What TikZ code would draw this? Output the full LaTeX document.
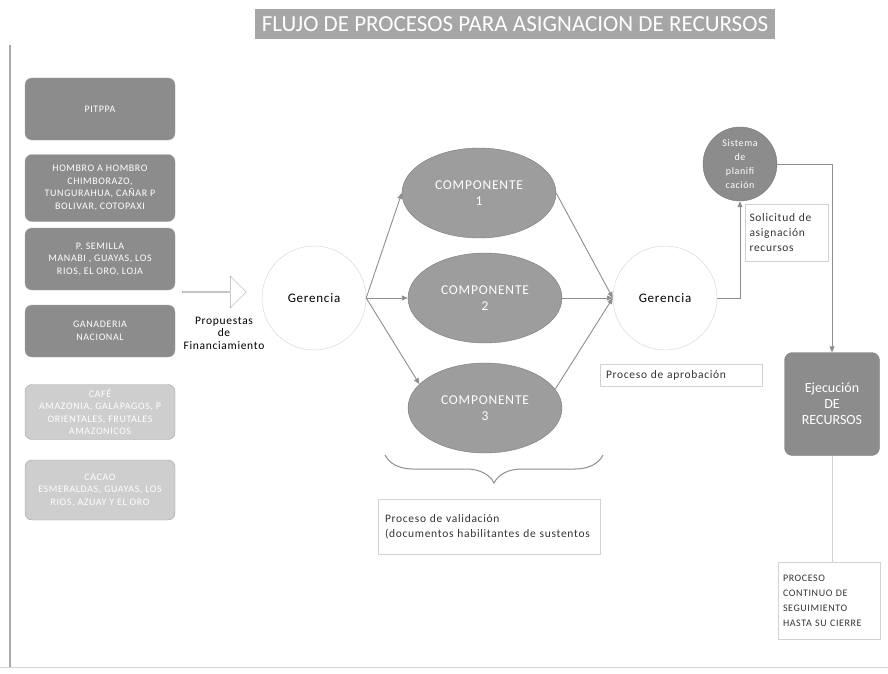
\documentclass[tikz,border=0pt]{standalone}
\usepackage{fontspec}
\setmainfont{Carlito}
\newfontfamily\spfont[LetterSpace=6]{Carlito}
\usepackage{xcolor}
\usetikzlibrary{arrows.meta,shapes.geometric,shapes.arrows,decorations.pathreplacing}
\definecolor{boxdark}{HTML}{8C8C8C}
\definecolor{boxlight}{HTML}{CECECE}
\definecolor{edgegray}{HTML}{7A7A7A}
\definecolor{faint}{HTML}{D2D2D2}
\definecolor{linegray}{HTML}{8E8E8E}
\tikzset{
prog/.style = {rectangle, rounded corners=7pt, draw=edgegray!70, fill=#1,
               text=white, minimum width=150pt, align=center,
               font=\spfont\fontsize{10}{12.5}\selectfont},
prog/.default = boxdark,
comp/.style = {ellipse, draw=edgegray, fill=boxdark!85, text=white,
               minimum width=154pt, minimum height=90pt, align=center,
               font=\spfont\fontsize{13.5}{16}\selectfont},
ger/.style = {circle, draw=faint, minimum size=104pt,
              font=\spfont\fontsize{13}{15}\selectfont},
note/.style = {rectangle, draw=faint, align=left, inner sep=0pt,
               font=\spfont\fontsize{11.5}{15}\selectfont, text=black!80},
flow/.style = {draw=linegray, line width=0.9pt, -{Triangle[length=6pt,width=5pt]}}
}

\begin{document}
\begin{tikzpicture}[x=1pt,y=-1pt]
\useasboundingbox (0,0) rectangle (888,674);

% marco del escaneo
\draw[faint!80!black, line width=1.5pt] (10,45) -- (10,668);
\draw[faint, line width=1pt] (0,667) -- (888,667);

% titulo
\node[rectangle, fill=black!35, text=white, minimum width=520pt, minimum height=30pt,
      font=\fontsize{23}{24}\selectfont] (titulo) at (515,24)
      {FLUJO DE PROCESOS PARA ASIGNACION DE RECURSOS};

% programas
\node[prog, minimum height=62pt] (pitppa) at (100,109) {PITPPA};
\node[prog, minimum height=67pt] (hombro) at (100,188)
      {HOMBRO A HOMBRO\\CHIMBORAZO,\\TUNGURAHUA, CAÑAR P\\BOLIVAR, COTOPAXI};
\node[prog, minimum height=62pt] (semilla) at (100,259)
      {P. SEMILLA\\MANABI , GUAYAS, LOS\\RIOS, EL ORO, LOJA};
\node[prog, minimum height=52pt] (ganado) at (100,331) {GANADERIA\\NACIONAL};
\node[prog=boxlight, minimum height=55pt] (cafe) at (100,412)
      {CAFÉ\\AMAZONIA, GALAPAGOS, P\\ORIENTALES, FRUTALES\\AMAZONICOS};
\node[prog=boxlight, minimum height=60pt] (cacao) at (100,490)
      {CACAO\\ESMERALDAS, GUAYAS, LOS\\RIOS, AZUAY Y EL ORO};

% propuestas
\node[single arrow, draw=faint!80!black, fill=white, minimum height=64pt,
      minimum width=32pt, single arrow head extend=5pt, inner sep=0pt] (flecha) at (214,292) {};
\node[align=center, font=\spfont\fontsize{11.5}{12.5}\selectfont] (propuestas) at (224,333)
      {Propuestas\\de\\Financiamiento};

\node[ger] (ger1) at (314,298) {Gerencia};

\node[comp] (comp1) at (479,193) {COMPONENTE\\1};
\node[comp] (comp2) at (485,298) {COMPONENTE\\2};
\node[comp] (comp3) at (485,408) {COMPONENTE\\3};

\node[ger] (ger2) at (665,298) {Gerencia};

\node[circle, draw=edgegray, fill=boxdark, text=white, minimum size=74pt, inner sep=0pt,
      align=center, font=\spfont\fontsize{10}{14}\selectfont] (plan) at (740,164)
      {Sistema\\de\\planifi\\cación};

\node[rectangle, rounded corners=8pt, draw=edgegray, fill=boxdark, text=white,
      minimum width=95pt, minimum height=103pt, align=center,
      font=\fontsize{14}{16}\selectfont] (ejec) at (832,404) {Ejecución\\DE\\RECURSOS};

% notas
\node[note, minimum width=83pt, minimum height=57pt, text width=75pt] (solicitud) at (787,233)
      {Solicitud de\\asignación\\recursos};
\node[note, minimum width=162pt, minimum height=22pt, text width=150pt] (aprobacion) at (681,375)
      {Proceso de aprobación};
\node[note, minimum width=222pt, minimum height=55pt, text width=208pt] (validacion) at (489,527)
      {Proceso de validación\\(documentos habilitantes de sustentos};
\node[note, minimum width=102pt, minimum height=77pt, text width=92pt,
      font=\spfont\fontsize{10}{15}\selectfont] (seguimiento) at (829,601)
      {PROCESO\\CONTINUO DE\\SEGUIMIENTO\\HASTA SU CIERRE};

% conectores
\draw[flow] (ger1.east) -- (comp1.west);
\draw[flow] (ger1.east) -- (comp2.west);
\draw[flow] (ger1.east) -- (comp3.160);
\draw[flow] (comp1.east) -- (ger2.west);
\draw[flow] (comp2.east) -- (ger2.west);
\draw[flow] (comp3.15) -- (ger2.west);
\draw[flow] (ger2.east) -| (plan.south);
\draw[flow] (plan.east) -| (ejec.north);
\draw[draw=faint, line width=0.9pt] (ejec.south) -- (ejec.south |- seguimiento.north);

% llave bajo los componentes
\draw[draw=linegray, line width=1pt, decorate,
      decoration={brace, mirror, amplitude=28pt}] (385,455) -- (603,455);
\end{tikzpicture}
\end{document}
